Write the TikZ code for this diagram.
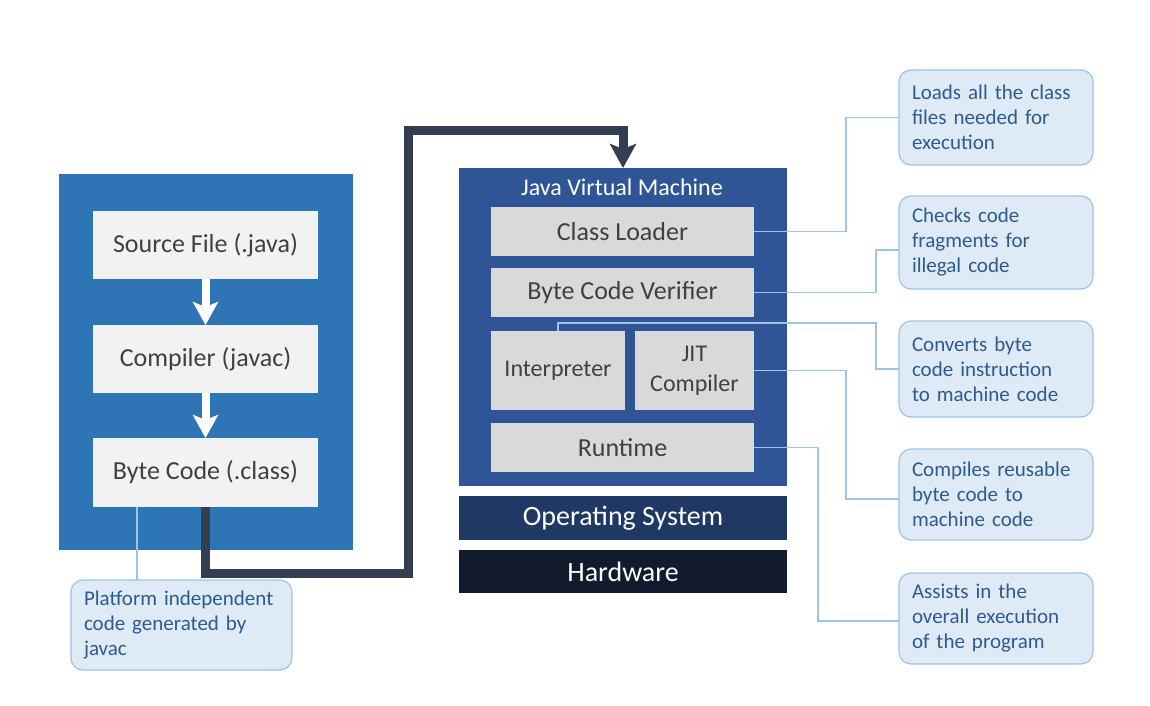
\documentclass[tikz,border=0pt]{standalone}
\usepackage{fontspec}
\setmainfont{Carlito}
\usetikzlibrary{arrows.meta}
\definecolor{panelblue}{HTML}{2E75B6}
\definecolor{jvmblue}{HTML}{2F5597}
\definecolor{osblue}{HTML}{203864}
\definecolor{hwblue}{HTML}{121B2E}
\definecolor{lightbox}{HTML}{F2F2F2}
\definecolor{greybox}{HTML}{D9D9D9}
\definecolor{boxtext}{HTML}{404040}
\definecolor{calfill}{HTML}{DEEBF7}
\definecolor{caledge}{HTML}{9DC3E6}
\definecolor{caltext}{HTML}{2E5A8C}
\definecolor{flowdark}{HTML}{333F50}
\tikzset{
  panel/.style={inner sep=0pt, outer sep=0pt},
  srcbox/.style={fill=lightbox, text=boxtext, inner sep=0pt, outer sep=0pt, font=\fontsize{26}{30}\selectfont},
  jvmpart/.style={fill=greybox, text=boxtext, inner sep=0pt, outer sep=0pt, font=\fontsize{26}{30}\selectfont, align=center},
  layerbox/.style={text=white, inner sep=0pt, outer sep=0pt, minimum width=328pt, font=\fontsize{28}{32}\selectfont},
  callout/.style={draw=caledge, line width=1.2pt, fill=calfill, rounded corners=12pt, text=caltext,
     align=left, inner xsep=13pt, inner ysep=0pt, outer sep=0pt, font=\fontsize{21}{25}\selectfont},
  calline/.style={draw=caledge, line width=1.5pt},
  whitearrow/.style={draw=white, line width=8pt, -{Stealth[width=25pt,length=23pt,inset=5pt]}},
  flowarrow/.style={draw=flowdark, line width=9pt, line join=miter, -{Stealth[width=26pt,length=24pt,inset=5pt]}}
}
\begin{document}
\begin{tikzpicture}[x=1pt,y=-1pt]
\useasboundingbox (0,0) rectangle (1150,706);
% left panel
\node[panel, fill=panelblue, minimum width=294pt, minimum height=376pt] (lp) at (206,362) {};
\node[srcbox, minimum width=225pt, minimum height=68pt] (src) at (205.5,245) {Source File (.java)};
\node[srcbox, minimum width=225pt, minimum height=68pt] (comp) at (205.5,359) {Compiler (javac)};
\node[srcbox, minimum width=225pt, minimum height=69pt] (bc) at (205.5,472.5) {Byte Code (.class)};
\draw[whitearrow] (src.south) -- (comp.north);
\draw[whitearrow] (comp.south) -- (bc.north);
% JVM
\node[panel, fill=jvmblue, minimum width=328pt, minimum height=318pt] (jvm) at (623,327) {};
\node[text=white, font=\fontsize{24}{28}\selectfont, inner sep=0pt] (jvmt) at (622,187) {Java Virtual Machine};
\node[jvmpart, minimum width=263pt, minimum height=49pt] (cl) at (622.5,231.5) {Class Loader};
\node[jvmpart, minimum width=263pt, minimum height=49pt] (ver) at (622.5,292.5) {Byte Code Verifier};
\node[jvmpart, minimum width=134pt, minimum height=79pt, font=\fontsize{24}{30}\selectfont] (interp) at (558,370.5) {Interpreter};
\node[jvmpart, minimum width=119pt, minimum height=79pt, font=\fontsize{24}{30}\selectfont] (jit) at (694.5,370.5) {JIT\\Compiler};
\node[jvmpart, minimum width=263pt, minimum height=49pt] (rt) at (622.5,447.5) {Runtime};
\node[layerbox, fill=osblue, minimum height=44pt] (os) at (623,518) {Operating System};
\node[layerbox, fill=hwblue, minimum height=43pt] (hw) at (623,571.5) {Hardware};
% flow connector
\coordinate (f1) at (408,573);
\coordinate (f2) at (623,130);
\draw[flowarrow] (bc.south) |- (f1) |- (f2) -- (jvm.north);
% callouts
\node[callout, minimum width=194pt, minimum height=95pt, text width=168pt] (c1) at (996,117.5) {Loads all the class\\files needed for\\execution};
\node[callout, minimum width=194pt, minimum height=93pt, text width=168pt] (c2) at (996,242.5) {Checks code\\fragments for\\illegal code};
\node[callout, minimum width=194pt, minimum height=96pt, text width=168pt] (c3) at (996,369) {Converts byte\\code instruction\\to machine code};
\node[callout, minimum width=194pt, minimum height=91pt, text width=168pt] (c4) at (996,494.5) {Compiles reusable\\byte code to\\machine code};
\node[callout, minimum width=194pt, minimum height=91pt, text width=168pt] (c5) at (996,618.5) {Assists in the\\overall execution\\of the program};
\node[callout, minimum width=221pt, minimum height=90pt, text width=195pt] (c6) at (181.5,625) {Platform independent\\code generated by\\javac};
% callout connectors
\coordinate (k2) at ([yshift=-7.5pt]c2.west);
\coordinate (k4) at ([yshift=-4.5pt]c4.west);
\coordinate (k5) at ([yshift=-2.5pt]c5.west);
\coordinate (k6) at ([xshift=44pt]bc.south west);
\draw[calline] (cl.east) -| ([xshift=-53pt]c1.west) -- (c1.west);
\draw[calline] (ver.east) -| ([xshift=-23pt]k2) -- (k2);
\draw[calline] (interp.north) |- ([xshift=-23pt,yshift=46pt]c3.west) |- (c3.west);
\draw[calline] (jit.east) -| ([xshift=-53pt]k4) -- (k4);
\draw[calline] (rt.east) -| ([xshift=-81pt]k5) -- (k5);
\draw[calline] (k6) -- (k6 |- c6.north);
\end{tikzpicture}
\end{document}
